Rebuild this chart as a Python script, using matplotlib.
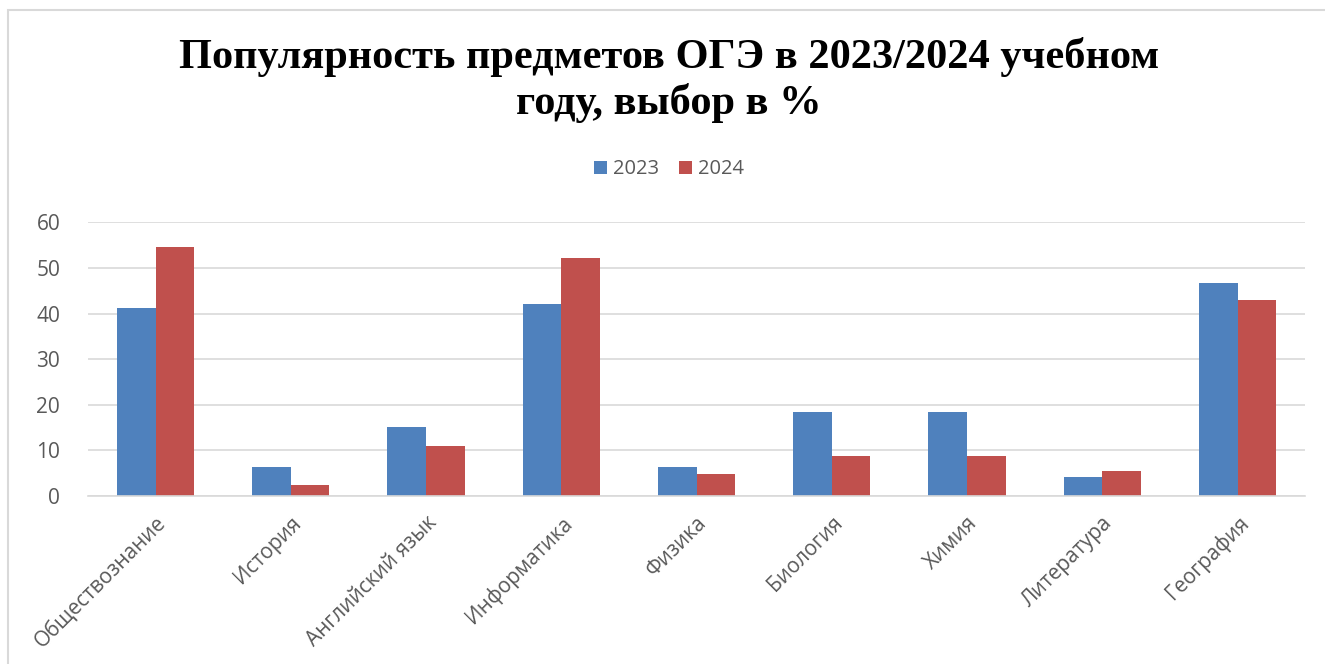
import numpy as np
import matplotlib
matplotlib.use("Agg")
import matplotlib.pyplot as plt
from matplotlib.patches import Rectangle

# Data
subjects = ["Обществознание", "История", "Английский язык", "Информатика", "Физика",
            "Биология", "Химия", "Литература", "География"]
values_2023 = [41.3, 6.4, 15.1, 42.2, 6.4, 18.4, 18.4, 4.2, 46.7]
values_2024 = [54.7, 2.3, 11.0, 52.3, 4.7, 8.7, 8.7, 5.4, 42.9]
years = ["2023", "2024"]

blue = "#4f81bd"
red = "#c0504d"
grey_text = "#595959"

fig = plt.figure(figsize=(13.25, 6.64), dpi=100)
ax = fig.add_axes([0.0664, 0.2534, 0.9186, 0.4116])

x = np.arange(len(subjects))
w = 1 / 3.5
ax.bar(x - w / 2, values_2023, width=w, color=blue, label=years[0])
ax.bar(x + w / 2, values_2024, width=w, color=red, label=years[1])

ax.set_xlim(-0.5, len(subjects) - 0.5)
ax.set_ylim(0, 60)
ax.set_yticks(range(0, 61, 10))
ax.grid(axis="y", color="#d9d9d9", linewidth=1.2)
ax.set_axisbelow(True)
for s in ["top", "right", "left"]:
    ax.spines[s].set_visible(False)
ax.spines["bottom"].set_color("#d9d9d9")
ax.spines["bottom"].set_linewidth(1.2)
ax.tick_params(axis="both", length=0, colors=grey_text, labelsize=15)
ax.tick_params(axis="y", pad=20)
ax.tick_params(axis="x", pad=12)
ax.set_xticks(x)
ax.set_xticklabels(subjects, rotation=45, ha="right", rotation_mode="anchor",
                   fontfamily="Open Sans")
for lbl in ax.get_yticklabels():
    lbl.set_fontfamily("Open Sans")

fig.text(0.505, 0.88, "Популярность предметов ОГЭ в 2023/2024 учебном\nгоду, выбор в %",
         ha="center", va="center", fontsize=30.5, fontweight="bold",
         fontfamily="Liberation Serif", linespacing=1.2)

fig.legend(loc="center", bbox_to_anchor=(0.505, 0.745), ncol=2, frameon=False,
           handlelength=0.65, handleheight=0.65, handletextpad=0.3, columnspacing=1.0,
           prop={"family": "Open Sans", "size": 14.5}, labelcolor=grey_text)

# light chart border
fig.patches.append(Rectangle((0.006, -0.05), 1.1, 1.035, transform=fig.transFigure,
                             fill=False, edgecolor="#d9d9d9", linewidth=1.5))

fig.savefig("out.png", dpi=100)
